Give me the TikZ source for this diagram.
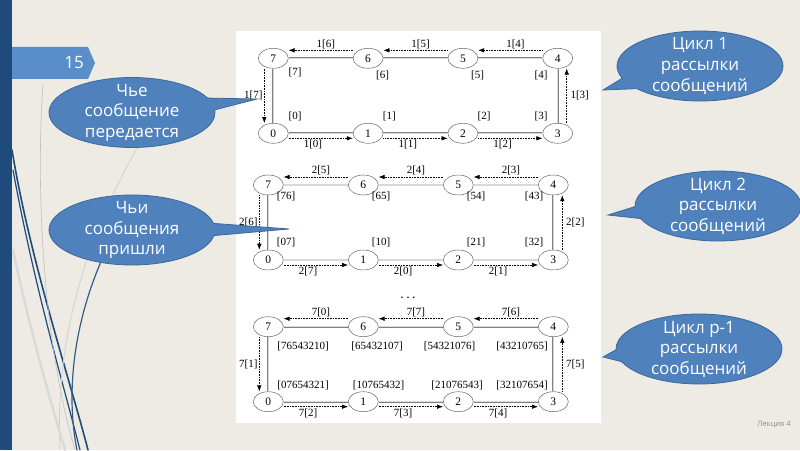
\documentclass[tikz,border=0pt]{standalone}
\usepackage{fontspec}
\setmainfont{Liberation Serif}
\newfontfamily\slidefont{Open Sans}
\usetikzlibrary{shapes.geometric,shapes.callouts,arrows.meta}
\definecolor{slidebg}{HTML}{EDEBE4}
\definecolor{navy}{HTML}{1F4A7C}
\definecolor{tagblue}{HTML}{5A8ECB}
\definecolor{callblue}{HTML}{4F81BD}
\definecolor{callrim}{HTML}{3C679B}
\tikzset{proc/.style={ellipse, draw=black!60, line width=0.5pt, fill=white, minimum width=30pt, minimum height=20pt, inner sep=0pt, font=\fontsize{11.5}{12}\selectfont}}
\tikzset{link/.style={draw=black!50, double=black!15, double distance=1.3pt, line width=0.5pt}}
\tikzset{send/.style={densely dotted, line width=0.6pt, -{Latex[length=6pt,width=4.5pt]}}}
\tikzset{lbl/.style={inner sep=1.5pt, font=\fontsize{11}{12}\selectfont}}
\tikzset{bubble/.style={ellipse callout, draw=callrim, line width=0.8pt, fill=callblue, text=white, align=center, inner xsep=0pt, inner ysep=-14pt, minimum width=166pt, minimum height=70pt, callout pointer arc=20, font=\slidefont\fontsize{17}{20.5}\selectfont}}
\tikzset{wisp/.style={line width=#1, line cap=round}}

\begin{document}
\begin{tikzpicture}[x=1pt,y=1pt]
\useasboundingbox (0,0) rectangle (800,450);
% slide
\fill[slidebg] (0,0) rectangle (800,450);
\fill[navy] (0,0) rectangle (12,450);
\draw[wisp=1.6pt, navy] (12,300) .. controls (30,190) and (70,70) .. (88,0);
\draw[wisp=1.2pt, navy] (13,280) .. controls (35,160) and (65,60) .. (80,0);
\draw[wisp=0.6pt, black!25] (43,365) .. controls (35,250) and (45,100) .. (75,0);
\draw[wisp=1.2pt, navy!90] (103,193) .. controls (75,130) and (65,60) .. (77,0);
\draw[wisp=0.8pt, black!18] (137,302) .. controls (80,200) and (55,100) .. (60,0);
\draw[wisp=2.5pt, black!15] (13,200) .. controls (30,120) and (50,50) .. (65,0);
\fill[tagblue] (12,403) -- (88,403) -- (95,387) -- (88,371) -- (12,371) -- cycle;
\node[font=\slidefont\fontsize{17}{20}\selectfont, text=white] (num) at (74,387) {15};
\node[font=\slidefont\fontsize{7.5}{8}\selectfont, text=black!45] (lec) at (774,25) {Лекция 4};
\fill[white] (236,27) rectangle (601,419);
% rings
\foreach \rg/\x/\y/\dx in {a/273.3/316.7/94.8, b/268.3/190/95, c/268.3/48.3/95}{
  \foreach \kn/\i/\j in {0/0/0,1/1/0,2/2/0,3/3/0,4/3/1,5/2/1,6/1/1,7/0/1}
    \node[proc] (\rg\kn) at (\x+\dx*\i, \y+75*\j) {\kn};
  \foreach \ka/\kb in {0/1,1/2,2/3,3/4,4/5,5/6,6/7,7/0}
    \draw[link] (\rg\ka) -- (\rg\kb);
}
\foreach \rg/\cyc in {a/1,b/2,c/7}{
  \foreach \ka/\kb in {0/1,1/2,2/3}{
    \pgfmathtruncatemacro{\m}{mod(\ka-\cyc+9,8)}
    \draw[send] ([yshift=-5pt]\rg\ka.east) -- node[lbl, below, pos=0.38] (m\rg\ka) {\cyc[\m]} ([yshift=-5pt]\rg\kb.west);
  }
  \foreach \ka/\kb in {4/5,5/6,6/7}{
    \pgfmathtruncatemacro{\m}{mod(\ka-\cyc+9,8)}
    \draw[send] ([yshift=8pt]\rg\ka.west) -- node[lbl, above, pos=0.42] (m\rg\ka) {\cyc[\m]} ([yshift=8pt]\rg\kb.east);
  }
  \pgfmathtruncatemacro{\m}{mod(3-\cyc+9,8)}
  \draw[send] ([xshift=9pt]\rg3.north) -- node[lbl, right=2pt] (m\rg3) {\cyc[\m]} ([xshift=9pt]\rg4.south);
  \pgfmathtruncatemacro{\m}{mod(7-\cyc+9,8)}
  \draw[send] ([xshift=-9pt]\rg7.south) -- node[lbl, left] (m\rg7) {\cyc[\m]} ([xshift=-9pt]\rg0.north);
}
% what each node holds
\foreach \nm/\x/\y/\s in {sa7/295/377.5/7, sa6/382.5/375/6, sa5/477.5/375/5, sa4/541/375/4,
    sa0/295/334/0, sa1/389.3/334/1, sa2/484/334/2, sa3/541/334/3}
  \node[lbl] (\nm) at (\x,\y) {[\s]};
\foreach \nm/\x/\y/\s in {sb7/286/254/76, sb6/381/254/65, sb5/476/254/54, sb4/534/254/43,
    sb0/286/208/07, sb1/381/208/10, sb2/476/208/21, sb3/534/208/32}
  \node[lbl] (\nm) at (\x,\y) {[\s]};
\foreach \nm/\x/\y/\s in {sc7/303/104/76543210, sc6/377/104/65432107, sc5/449.5/104/54321076, sc4/522/104/43210765,
    sc0/303/65/07654321, sc1/378.5/65/10765432, sc2/457/65/21076543, sc3/522/65/32107654}
  \node[lbl] (\nm) at (\x,\y) {[\s]};
\node[anchor=base, font=\bfseries] (dots) at (408,151) {. . .};
% callouts
\coordinate (pwho) at (257,351);
\coordinate (pfrom) at (289,221);
\coordinate (pc1) at (603,360);
\coordinate (pc2) at (608,235);
\coordinate (pc3) at (603,93);
\node[bubble, callout absolute pointer={(pwho)}] (who) at (132,337.5) {Чье\\сообщение\\передается};
\node[bubble, callout absolute pointer={(pfrom)}] (from) at (132,220) {Чьи\\сообщения\\пришли};
\node[bubble, callout absolute pointer={(pc1)}] (cyc1) at (700,384) {Цикл 1\\рассылки\\сообщений};
\node[bubble, callout absolute pointer={(pc2)}] (cyc2) at (718,244) {Цикл 2\\рассылки\\сообщений};
\node[bubble, callout absolute pointer={(pc3)}] (cyc3) at (699,101) {Цикл р-1\\рассылки\\сообщений};
\end{tikzpicture}
\end{document}
